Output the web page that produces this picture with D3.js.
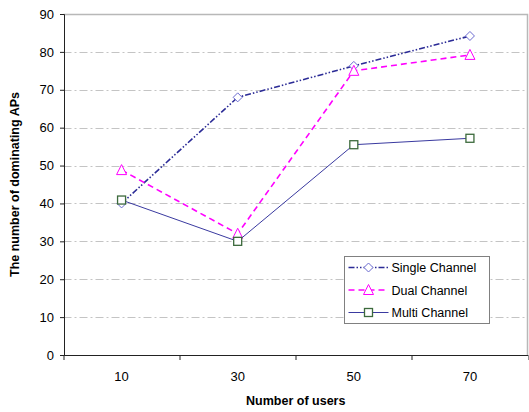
<!DOCTYPE html>
<html>
<head>
<meta charset="utf-8">
<script src="https://cdn.jsdelivr.net/npm/d3@7"></script>
<style>
  body { margin: 0; background: #fff; }
  svg { display: block; font-family: "Liberation Sans", Arial, sans-serif; }
</style>
</head>
<body>
<div id="chart"></div>
<script>
// data
var users = ["10", "30", "50", "70"];
var singleChannel = [40, 68, 76.3, 84.2];
var dualChannel = [48.8, 32, 75, 79.2];
var multiChannel = [40.9, 30, 55.5, 57.2];
var yTicks = [0, 10, 20, 30, 40, 50, 60, 70, 80, 90];

var series = [
    { name: "Single Channel", values: singleChannel, line: "#2b2b96", dash: "6,2,1.5,2,1.5,2", width: 1.6, marker: "diamond", mstroke: "#6a6ad0" },
    { name: "Dual Channel", values: dualChannel, line: "#ff00ff", dash: "6,4", width: 1.6, marker: "triangle", mstroke: "#ff00ff" },
    { name: "Multi Channel", values: multiChannel, line: "#3a3aa0", dash: null, width: 1, marker: "square", mstroke: "#3c6a3c" }
];

var W = 529, H = 412;
var margin = { left: 63.5, right: 1, top: 14, bottom: 57 };
var width = W - margin.left - margin.right;
var height = H - margin.top - margin.bottom;

var svg = d3.select("#chart").append("svg")
    .attr("width", W)
    .attr("height", H);
var g = svg.append("g")
    .attr("transform", "translate(" + margin.left + "," + margin.top + ")");

var x = d3.scaleBand().domain(users).range([0, width]);
var y = d3.scaleLinear().domain([0, 90]).range([height, 0]);

// grid lines
g.selectAll(".grid").data(yTicks.filter(function (d) { return d > 0 && d < 90; }))
    .enter().append("line")
    .attr("x1", 0).attr("x2", width)
    .attr("y1", function (d) { return Math.round(y(d)) + 0.5; })
    .attr("y2", function (d) { return Math.round(y(d)) + 0.5; })
    .attr("stroke", "#c4c4c4")
    .attr("stroke-dasharray", "8,3,2,3");

// top and right border
g.append("path")
    .attr("d", "M0,0.5H" + (width - 0.5) + "V" + height)
    .attr("fill", "none")
    .attr("stroke", "#b8b8b8")
    .attr("stroke-width", 1.5);

// axes
var yAxis = g.append("g")
    .attr("transform", "translate(0.5,0)")
    .call(d3.axisLeft(y).tickValues(yTicks).tickSize(4).tickPadding(6));
var xAxis = g.append("g")
    .attr("transform", "translate(0," + (height + 0.5) + ")")
    .call(d3.axisBottom(x).tickSize(0).tickPadding(16));

// x tick marks at band boundaries
var bounds = users.map(function (d) { return x(d); }).concat([width]);
g.selectAll(".xtick").data(bounds).enter().append("line")
    .attr("x1", function (d) { return Math.round(d) + 0.5; })
    .attr("x2", function (d) { return Math.round(d) + 0.5; })
    .attr("y1", height).attr("y2", height + 5)
    .attr("stroke", "#222");

[yAxis, xAxis].forEach(function (a) {
    a.selectAll(".domain").attr("stroke", "#222");
    a.selectAll(".tick line").attr("stroke", "#222");
    a.selectAll("text").attr("font-size", "13px").attr("fill", "#000")
        .attr("font-family", "Liberation Sans, Arial, sans-serif");
});
xAxis.select(".domain").attr("d", "M0,0H" + width);

// axis titles
svg.append("text")
    .attr("x", margin.left + width / 2)
    .attr("y", 405)
    .attr("text-anchor", "middle")
    .attr("font-size", "12.5px")
    .attr("font-weight", "bold")
    .text("Number of users");
svg.append("text")
    .attr("transform", "translate(19," + (margin.top + height / 2) + ") rotate(-90)")
    .attr("text-anchor", "middle")
    .attr("font-size", "12.5px")
    .attr("font-weight", "bold")
    .text("The number of dominating APs");

function drawMarker(sel, type, color) {
    if (type == "diamond") {
        sel.append("path").attr("d", "M0,-4.5L4.5,0L0,4.5L-4.5,0Z")
            .attr("fill", "#fff").attr("stroke", color);
    } else if (type == "triangle") {
        sel.append("path").attr("d", "M0,-5.5L5,4.5L-5,4.5Z")
            .attr("fill", "#fff").attr("stroke", color);
    } else {
        sel.append("rect").attr("x", -4).attr("y", -4).attr("width", 8).attr("height", 8)
            .attr("fill", "#fff").attr("stroke", color).attr("stroke-width", 1.3);
    }
}

var line = d3.line()
    .x(function (d, i) { return x(users[i]) + x.bandwidth() / 2; })
    .y(function (d) { return y(d); });

series.forEach(function (s) {
    g.append("path")
        .datum(s.values)
        .attr("d", line)
        .attr("fill", "none")
        .attr("stroke", s.line)
        .attr("stroke-width", s.width)
        .attr("stroke-dasharray", s.dash);
    s.values.forEach(function (v, i) {
        var m = g.append("g")
            .attr("transform", "translate(" + (x(users[i]) + x.bandwidth() / 2) + "," + y(v) + ")");
        drawMarker(m, s.marker, s.mstroke);
    });
});

// legend
var lg = svg.append("g").attr("transform", "translate(344.5,256.5)");
lg.append("rect")
    .attr("width", 145).attr("height", 67)
    .attr("fill", "#fff")
    .attr("stroke", "#808080");
series.forEach(function (s, i) {
    var row = lg.append("g").attr("transform", "translate(0," + (11 + i * 22.5) + ")");
    row.append("line")
        .attr("x1", 4).attr("x2", 44)
        .attr("stroke", s.line)
        .attr("stroke-width", s.width)
        .attr("stroke-dasharray", s.dash);
    var m = row.append("g").attr("transform", "translate(24,0)");
    drawMarker(m, s.marker, s.mstroke);
    row.append("text")
        .attr("x", 47).attr("y", 4.5)
        .attr("font-size", "12.5px")
        .text(s.name);
});
</script>
</body>
</html>
